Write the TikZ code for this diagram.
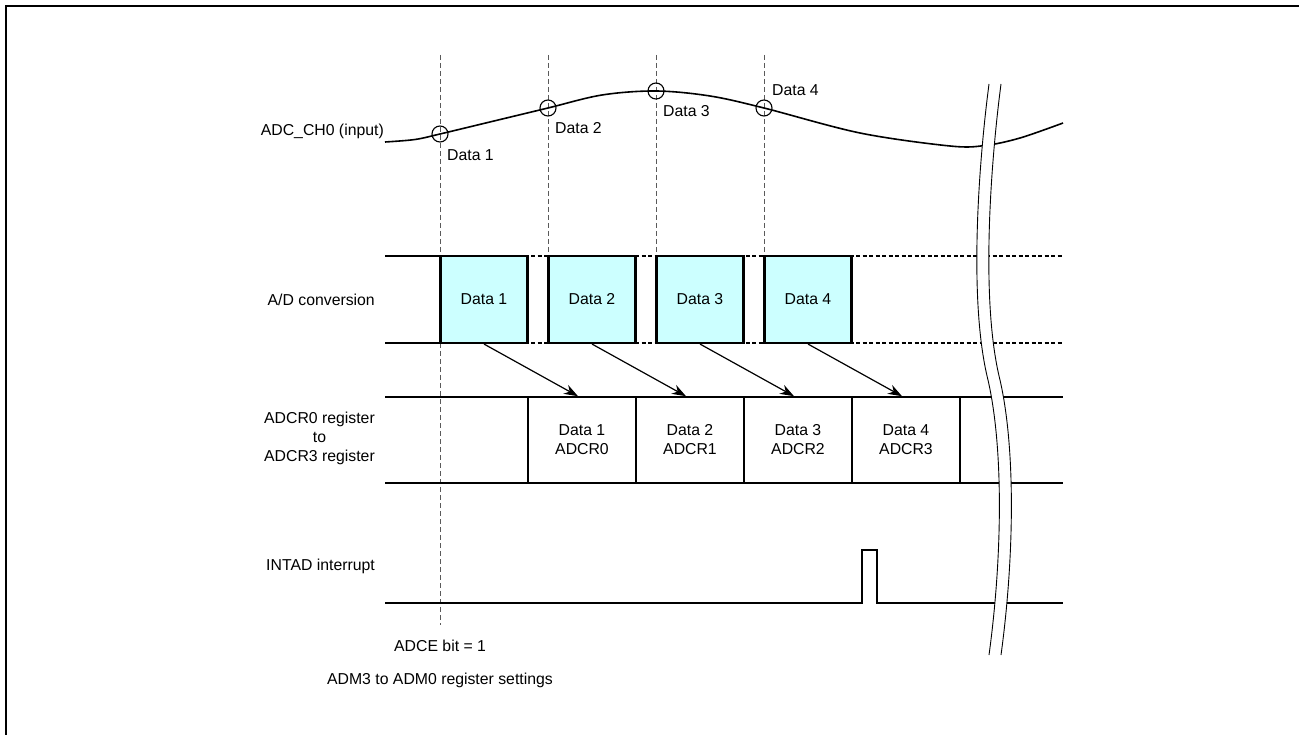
\documentclass[tikz,border=0pt]{standalone}
\usepackage{fontspec}
\setmainfont{Liberation Sans}
\usetikzlibrary{arrows.meta}
\definecolor{adfill}{RGB}{204,255,255}
\definecolor{guide}{RGB}{90,90,90}
\begin{document}
\begin{tikzpicture}[x=1pt,y=-1pt,
  every node/.style={font=\fontsize{15.8}{19}\selectfont, inner sep=0pt},
  frame/.style={line width=2pt},
  rowline/.style={line width=2.1pt},
  rowdash/.style={line width=2.1pt, dash pattern=on 4pt off 2.5pt},
  guideline/.style={guide, line width=1pt, dash pattern=on 5pt off 3pt},
  adbox/.style={draw, line width=2.1pt, fill=adfill, minimum width=87pt, minimum height=87pt},
  regbox/.style={draw, line width=1.6pt, minimum width=108pt, minimum height=86pt, align=center},
  xfer/.style={line width=1.2pt, -{Stealth[length=14pt,width=10pt]}},
  sample/.style={draw, circle, line width=1.1pt, minimum size=16pt},
  rowlabel/.style={anchor=east, align=center},
  wavelabel/.style={anchor=west},
  wave/.style={line width=1.6pt},
  breakline/.style={line width=0.9pt}
]
\useasboundingbox (0,0) rectangle (1299,735);
% frame
\draw[frame] (6,735) -- (6,6) -- (1299,6);

% guide coordinates
\coordinate (g1t) at (440,55); \coordinate (g1b) at (440,625);
\coordinate (g2t) at (548,55); \coordinate (g2b) at (548,256);
\coordinate (g3t) at (656,55); \coordinate (g3b) at (656,256);
\coordinate (g4t) at (764,55); \coordinate (g4b) at (764,256);
\draw[guideline] (g1t) -- (g1b);
\draw[guideline] (g2t) -- (g2b);
\draw[guideline] (g3t) -- (g3b);
\draw[guideline] (g4t) -- (g4b);

% input waveform
\draw[wave] plot[smooth, tension=0.55] coordinates {(385,142) (415,139.5) (440,134) (494,121) (548,108) (602,95) (656,91) (710,96) (764,108) (860,133) (950,146) (985,145.5) (1020,138) (1063,123)};
\node[sample] (s1) at (440,134) {};
\node[sample] (s2) at (548,108) {};
\node[sample] (s3) at (656,91) {};
\node[sample] (s4) at (764,108) {};
\node[wavelabel] (w1) at (447,155) {Data 1};
\node[wavelabel] (w2) at (555,128) {Data 2};
\node[wavelabel] (w3) at (663,111) {Data 3};
\node[wavelabel] (w4) at (772,90) {Data 4};

% A/D conversion row
\coordinate (adtl) at (385,256); \coordinate (adtm) at (440,256); \coordinate (adtr) at (1063,256);
\coordinate (adbl) at (385,343); \coordinate (adbm) at (440,343); \coordinate (adbr) at (1063,343);
\draw[rowline] (adtl) -- (adtm);
\draw[rowline] (adbl) -- (adbm);
\draw[rowdash] (adtm) -- (adtr);
\draw[rowdash] (adbm) -- (adbr);
\node[adbox] (ad1) at (484,299.5) {Data 1};
\node[adbox] (ad2) at (592,299.5) {Data 2};
\node[adbox] (ad3) at (700,299.5) {Data 3};
\node[adbox] (ad4) at (808,299.5) {Data 4};

% register row
\coordinate (rtl) at (385,397); \coordinate (rtr) at (1063,397);
\coordinate (rbl) at (385,483); \coordinate (rbr) at (1063,483);
\draw[rowline] (rtl) -- (rtr);
\draw[rowline] (rbl) -- (rbr);
\node[regbox] (reg1) at (582,440) {Data 1\\ADCR0};
\node[regbox] (reg2) at (690,440) {Data 2\\ADCR1};
\node[regbox] (reg3) at (798,440) {Data 3\\ADCR2};
\node[regbox] (reg4) at (906,440) {Data 4\\ADCR3};

% transfers
\draw[xfer] (ad1.south) -- ([xshift=-4pt]reg1.north);
\draw[xfer] (ad2.south) -- ([xshift=-4pt]reg2.north);
\draw[xfer] (ad3.south) -- ([xshift=-4pt]reg3.north);
\draw[xfer] (ad4.south) -- ([xshift=-4pt]reg4.north);

% interrupt
\coordinate (il) at (385,603); \coordinate (ir) at (1063,603);
\draw[rowline] (il) -- (862,603) -- (862,550) -- (877,550) -- (877,603) -- (ir);

% break mark
\fill[white] (989,84) .. controls (979,160) and (968,300) .. (988,380) .. controls (1004,450) and (1002,560) .. (989,655)
  -- (1001,655) .. controls (1014,560) and (1016,450) .. (1000,380) .. controls (980,300) and (991,160) .. (1001,84) -- cycle;
\draw[breakline] (989,84) .. controls (979,160) and (968,300) .. (988,380) .. controls (1004,450) and (1002,560) .. (989,655);
\draw[breakline] (1001,84) .. controls (991,160) and (980,300) .. (1000,380) .. controls (1016,450) and (1014,560) .. (1001,655);

% row labels
\node[rowlabel] (lin) at (384,131) {ADC\_CH0 (input)};
\node[rowlabel] (lad) at (375,300) {A/D conversion};
\node[rowlabel] (lreg) at (375,438) {ADCR0 register\\to\\ADCR3 register};
\node[rowlabel] (lint) at (375,566) {INTAD interrupt};

% bottom notes
\node[anchor=west] (adce) at (394,646) {ADCE bit = 1};
\node[anchor=east] (adm) at (553,680) {ADM3 to ADM0 register settings};
\end{tikzpicture}
\end{document}
